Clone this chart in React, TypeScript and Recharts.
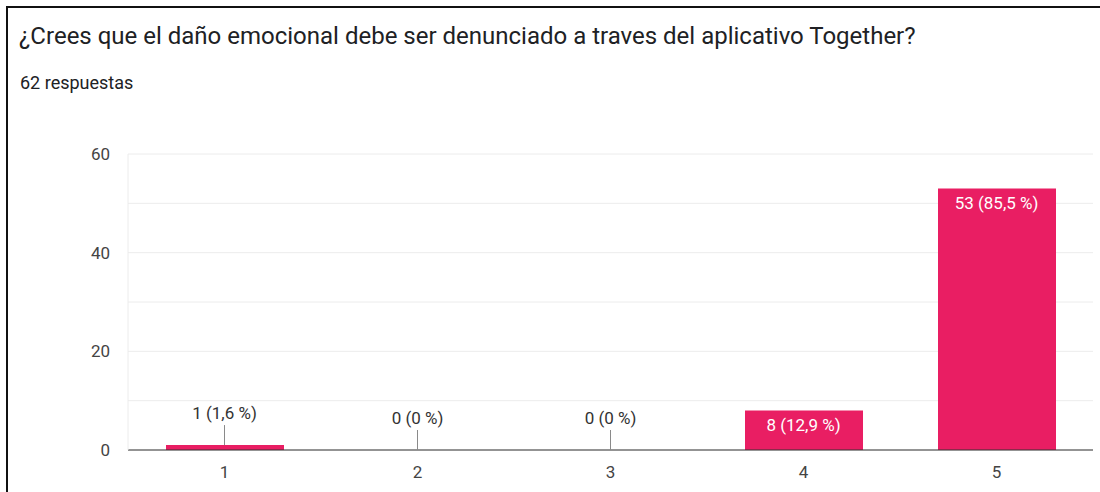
import React from "react";
import { ComposedChart, Bar, Line, XAxis, YAxis, CartesianGrid } from "recharts";

const categories = ["1", "2", "3", "4", "5"];
const counts = [1, 0, 0, 8, 53];
const percents = ["1,6", "0", "0", "12,9", "85,5"];
const yTicks = [0, 20, 40, 60];
const gridValues = [0, 10, 20, 30, 40, 50, 60];

const title = "¿Crees que el daño emocional debe ser denunciado a traves del aplicativo Together?";
const subtitle = "62 respuestas";

const data = categories.map((c, i) => ({ name: c, value: counts[i], pct: percents[i] }));

const BAR_COLOR = "#E91E63";
const FONT = "Roboto, 'Noto Sans', sans-serif";

// labels are drawn as the dots of an invisible line so that zero bars get one too
const BarLabel = (props: any) => {
  const { cx, cy, payload, index } = props;
  if (cx == null || cy == null) return null;
  const text = `${payload.value} (${payload.pct} %)`;
  if (payload.value >= 6) {
    return (
      <text key={index} x={cx} y={cy + 20} textAnchor="middle" fill="#fff" fontSize={17} fontFamily={FONT}>
        {text}
      </text>
    );
  }
  return (
    <g key={index}>
      <line x1={cx} x2={cx} y1={cy} y2={cy - 20} stroke="#8a8a8a" strokeWidth={1} />
      <text x={cx} y={cy - 26} textAnchor="middle" fill="#333" fontSize={17} fontFamily={FONT}>
        {text}
      </text>
    </g>
  );
};

export default function App() {
  return (
    <div
      style={{
        position: "fixed",
        left: 0,
        top: 0,
        width: 1100,
        height: 492,
        background: "#fff",
        overflow: "hidden",
        fontFamily: FONT,
      }}
    >
      <div
        style={{
          position: "absolute",
          left: 6,
          top: 6,
          width: 1200,
          height: 600,
          borderTop: "2px solid #111",
          borderLeft: "2px solid #111",
        }}
      />
      <div
        style={{
          position: "absolute",
          left: 19,
          top: 21,
          fontSize: 24,
          color: "#202124",
          whiteSpace: "nowrap",
          lineHeight: "30px",
        }}
      >
        {title}
      </div>
      <div
        style={{
          position: "absolute",
          left: 20,
          top: 72,
          fontSize: 18,
          color: "#202124",
          lineHeight: "22px",
        }}
      >
        {subtitle}
      </div>
      <div style={{ position: "absolute", left: 0, top: 0 }}>
        <ComposedChart
          width={1100}
          height={492}
          data={data}
          margin={{ top: 154, right: 7, bottom: 12, left: 88 }}
        >
          <CartesianGrid
            vertical={false}
            stroke="#ececec"
            horizontalValues={gridValues}
          />
          <XAxis
            dataKey="name"
            tickLine={false}
            axisLine={{ stroke: "#333" }}
            tick={{ fill: "#444", fontSize: 17, fontFamily: FONT }}
            tickMargin={10}
            height={30}
          />
          <YAxis
            domain={[0, 60]}
            ticks={yTicks}
            tickLine={false}
            axisLine={{ stroke: "#ececec" }}
            tick={{ fill: "#444", fontSize: 17, fontFamily: FONT }}
            tickMargin={12}
            width={40}
          />
          <YAxis
            yAxisId="r"
            orientation="right"
            domain={[0, 60]}
            tick={false}
            tickLine={false}
            axisLine={{ stroke: "#ececec" }}
            width={0}
          />
          <Bar dataKey="value" fill={BAR_COLOR} barSize={118} isAnimationActive={false} />
          <Line
            dataKey="value"
            stroke="none"
            dot={BarLabel}
            activeDot={false}
            isAnimationActive={false}
          />
        </ComposedChart>
      </div>
    </div>
  );
}
